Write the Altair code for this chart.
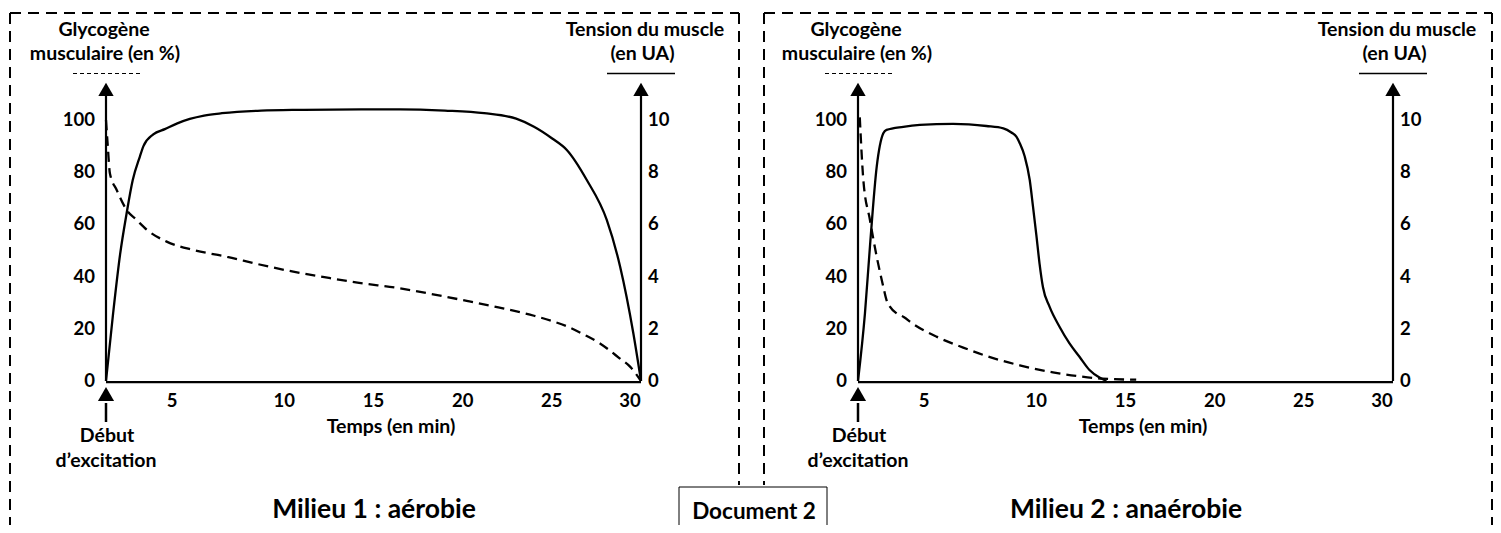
import altair as alt
import pandas as pd

# ---------------- data ----------------
# Milieu 1 : aérobie
aer_tension_t = [0, 0.4, 0.8, 1.15, 1.5, 1.9, 2.1, 2.65, 3.3, 4.0, 4.7, 5.5, 6.5, 8.7, 11, 14.3,
                 16.5, 19, 21.2, 23, 24, 25, 25.84, 26.96, 28.08, 28.83, 29.57, 30]
aer_tension = [0, 2.6, 4.9, 6.4, 7.7, 8.6, 9.0, 9.45, 9.65, 9.87, 10.04, 10.17, 10.26, 10.36, 10.39,
               10.41, 10.41, 10.36, 10.26, 10.05, 9.74, 9.3, 8.85, 7.7, 6.17, 4.38, 1.83, 0]
aer_glyco_t = [0, 0.1, 0.22, 0.6, 1.16, 1.72, 2.3, 3.4, 4.9, 6.8, 8.5, 10.5, 12.5, 14.1, 16.5, 18.5,
               20.3, 22, 24, 25, 25.9, 26.8, 27.7, 28.8, 29.4, 30]
aer_glyco = [100, 90, 79.5, 73.2, 65.5, 61.7, 57.9, 53.4, 50.2, 47.6, 44.8, 41.9, 39.5, 37.7, 35.5,
             33.0, 30.6, 28.2, 25.0, 23.0, 20.8, 17.8, 14.4, 8.7, 5.4, 0]

# Milieu 2 : anaérobie
ana_tension_t = [0, 0.39, 0.67, 1.05, 1.42, 1.6, 2.54, 3.47, 5.33, 7.2, 8.15, 8.6, 8.88, 9.07, 9.35,
                 9.63, 9.81, 10.0, 10.18, 10.37, 10.74, 11.3, 11.86, 12.42, 12.98, 13.54, 13.93]
ana_tension = [0, 2.59, 5.15, 8.21, 9.49, 9.62, 9.74, 9.81, 9.85, 9.77, 9.68, 9.52, 9.36, 9.11, 8.6,
               7.7, 6.7, 5.6, 4.5, 3.6, 2.85, 2.08, 1.44, 0.93, 0.42, 0.13, 0]
ana_glyco_t = [0.1, 0.3, 0.67, 1.05, 1.42, 1.6, 1.79, 2.17, 2.54, 3.1, 4.4, 5.9, 7.2, 9.07, 10.93,
               12.4, 13.7, 15.6]
ana_glyco = [101, 77, 61.7, 47.6, 36.1, 31, 28.5, 25.9, 24.6, 21.8, 17.0, 12.8, 9.6, 6.0, 3.3,
             1.8, 0.9, 0.5]

glyco_ticks = [0, 20, 40, 60, 80, 100]
tension_ticks = [0, 2, 4, 6, 8, 10]
time_ticks = [5, 10, 15, 20, 25, 30]

panel_titles = ["Milieu 1 : aérobie", "Milieu 2 : anaérobie"]
y_title_left = ["Glycogène", "musculaire (en %)"]
y_title_right = ["Tension du muscle", "(en UA)"]
x_title = "Temps (en min)"
start_label = ["Début", "d’excitation"]
doc_label = "Document 2"

# ---------------- layout ----------------
W, H = 1485, 517
FONT = "Lato"
LBL = 19.5
TICK = 18.5
ONE = pd.DataFrame({"a": [0]})


def txt(s, x, y, size=LBL, align="center", baseline="alphabetic"):
    return alt.Chart(ONE).mark_text(
        text=s, font=FONT, fontWeight="bold", fontSize=size, align=align,
        baseline=baseline, color="black"
    ).encode(x=alt.value(x), y=alt.value(y))


def seg(x, y, x2, y2, dash=None, width=2.0):
    kw = dict(color="black", strokeWidth=width)
    if dash:
        kw["strokeDash"] = dash
    return alt.Chart(ONE).mark_rule(**kw).encode(
        x=alt.value(x), y=alt.value(y), x2=alt.value(x2), y2=alt.value(y2))


def panel(ox, tt, tv, gt, gv, title):
    xs = alt.Scale(domain=[0, 30], range=[98 + ox, 633 + ox])
    yg = alt.Scale(domain=[0, 100], range=[373, 112])
    yt = alt.Scale(domain=[0, 10], range=[373, 112])
    X = lambda f: alt.X(f, scale=xs, axis=None)
    YG = lambda f: alt.Y(f, scale=yg, axis=None)
    YT = lambda f: alt.Y(f, scale=yt, axis=None)

    layers = []
    # axes lines
    ax = pd.DataFrame({"x": [0, 30], "y": [0, 0], "y2": [110, 110]})
    layers.append(alt.Chart(ax).mark_rule(color="black", strokeWidth=2.2).encode(
        x=X("x:Q"), y=YG("y:Q"), y2="y2:Q"))
    hx = pd.DataFrame({"x": [0], "x2": [30], "y": [-0.4]})
    layers.append(alt.Chart(hx).mark_rule(color="black", strokeWidth=2.2).encode(
        x=X("x:Q"), x2="x2:Q", y=YG("y:Q")))
    # arrow heads
    ah = pd.DataFrame({"x": [0, 30], "y": [111.7, 111.7]})
    layers.append(alt.Chart(ah).mark_point(shape="triangle-up", filled=True, size=235,
                                           color="black", opacity=1).encode(
        x=X("x:Q"), y=YG("y:Q")))
    # start arrow under origin
    layers.append(seg(98 + ox, 414, 98 + ox, 395, width=2.5))
    layers.append(alt.Chart(ONE).mark_point(shape="triangle-up", filled=True, size=260,
                                            color="black", opacity=1).encode(
        x=alt.value(98 + ox), y=alt.value(386)))

    # curves
    dt = pd.DataFrame({"t": tt, "v": tv})
    layers.append(alt.Chart(dt).mark_line(color="black", strokeWidth=2.3,
                                          interpolate="monotone").encode(
        x=X("t:Q"), y=YT("v:Q")))
    dg = pd.DataFrame({"t": gt, "v": gv})
    layers.append(alt.Chart(dg).mark_line(color="black", strokeWidth=2.3, strokeDash=[10, 6],
                                          interpolate="monotone").encode(
        x=X("t:Q"), y=YG("v:Q")))

    # tick labels
    gl = pd.DataFrame({"x": [0] * len(glyco_ticks), "v": glyco_ticks})
    layers.append(alt.Chart(gl).mark_text(font=FONT, fontWeight="bold", fontSize=TICK,
                                          align="right", baseline="middle", dx=-11,
                                          color="black").encode(
        x=X("x:Q"), y=YG("v:Q"), text="v:Q"))
    tl = pd.DataFrame({"x": [30] * len(tension_ticks), "v": tension_ticks})
    layers.append(alt.Chart(tl).mark_text(font=FONT, fontWeight="bold", fontSize=TICK,
                                          align="left", baseline="middle", dx=7,
                                          color="black").encode(
        x=X("x:Q"), y=YT("v:Q"), text="v:Q"))
    xl = pd.DataFrame({"t": time_ticks})
    for cond, dx in [("datum.t > 5 && datum.t < 30", 0), ("datum.t == 5", -23),
                     ("datum.t == 30", -11)]:
        layers.append(alt.Chart(xl).transform_filter(cond).mark_text(
            font=FONT, fontWeight="bold", fontSize=TICK, align="center",
            baseline="alphabetic", dx=dx, color="black").encode(
            x=X("t:Q"), y=alt.value(399), text="t:Q"))

    # axis titles
    layers.append(txt(y_title_left[0], 96 + ox, 28))
    layers.append(txt(y_title_left[1], 97 + ox, 52))
    layers.append(seg(65 + ox, 65.5, 132 + ox, 65.5, dash=[4, 3], width=1.2))
    layers.append(txt(y_title_right[0], 637 + ox, 28))
    layers.append(txt(y_title_right[1], 634.5 + ox, 52))
    layers.append(seg(599 + ox, 65.5, 667 + ox, 65.5, width=1.6))
    layers.append(txt(x_title, 383 + ox, 425))
    layers.append(txt(start_label[0], 99 + ox, 434))
    layers.append(txt(start_label[1], 98 + ox, 459))
    layers.append(txt(title, 366 + ox, 510, size=26.5))
    return layers


layers = []
# dashed frames
D = [11, 7]
layers += [
    seg(2, 5, 731, 5, dash=D), seg(2, 5, 2, H, dash=D), seg(731, 5, 731, 477, dash=D),
    seg(756, 5, 1484, 5, dash=D), seg(756, 5, 756, 477, dash=D), seg(1484, 5, 1484, H, dash=D),
]
# document box
layers.append(alt.Chart(ONE).mark_rect(fill="white", stroke="black", strokeWidth=1).encode(
    x=alt.value(671), x2=alt.value(819), y=alt.value(479), y2=alt.value(H + 5)))
layers.append(txt(doc_label, 746, 511, size=22.5))

layers += panel(0, aer_tension_t, aer_tension, aer_glyco_t, aer_glyco, panel_titles[0])
layers += panel(752, ana_tension_t, ana_tension, ana_glyco_t, ana_glyco, panel_titles[1])

chart = alt.layer(*layers).resolve_scale(x="independent", y="independent").properties(
    width=W, height=H, padding=0, autosize=alt.AutoSizeParams(type="none"),
    background="white"
).configure_view(stroke=None)

chart.save("out.html", embed_options={"renderer": "svg", "actions": False})
